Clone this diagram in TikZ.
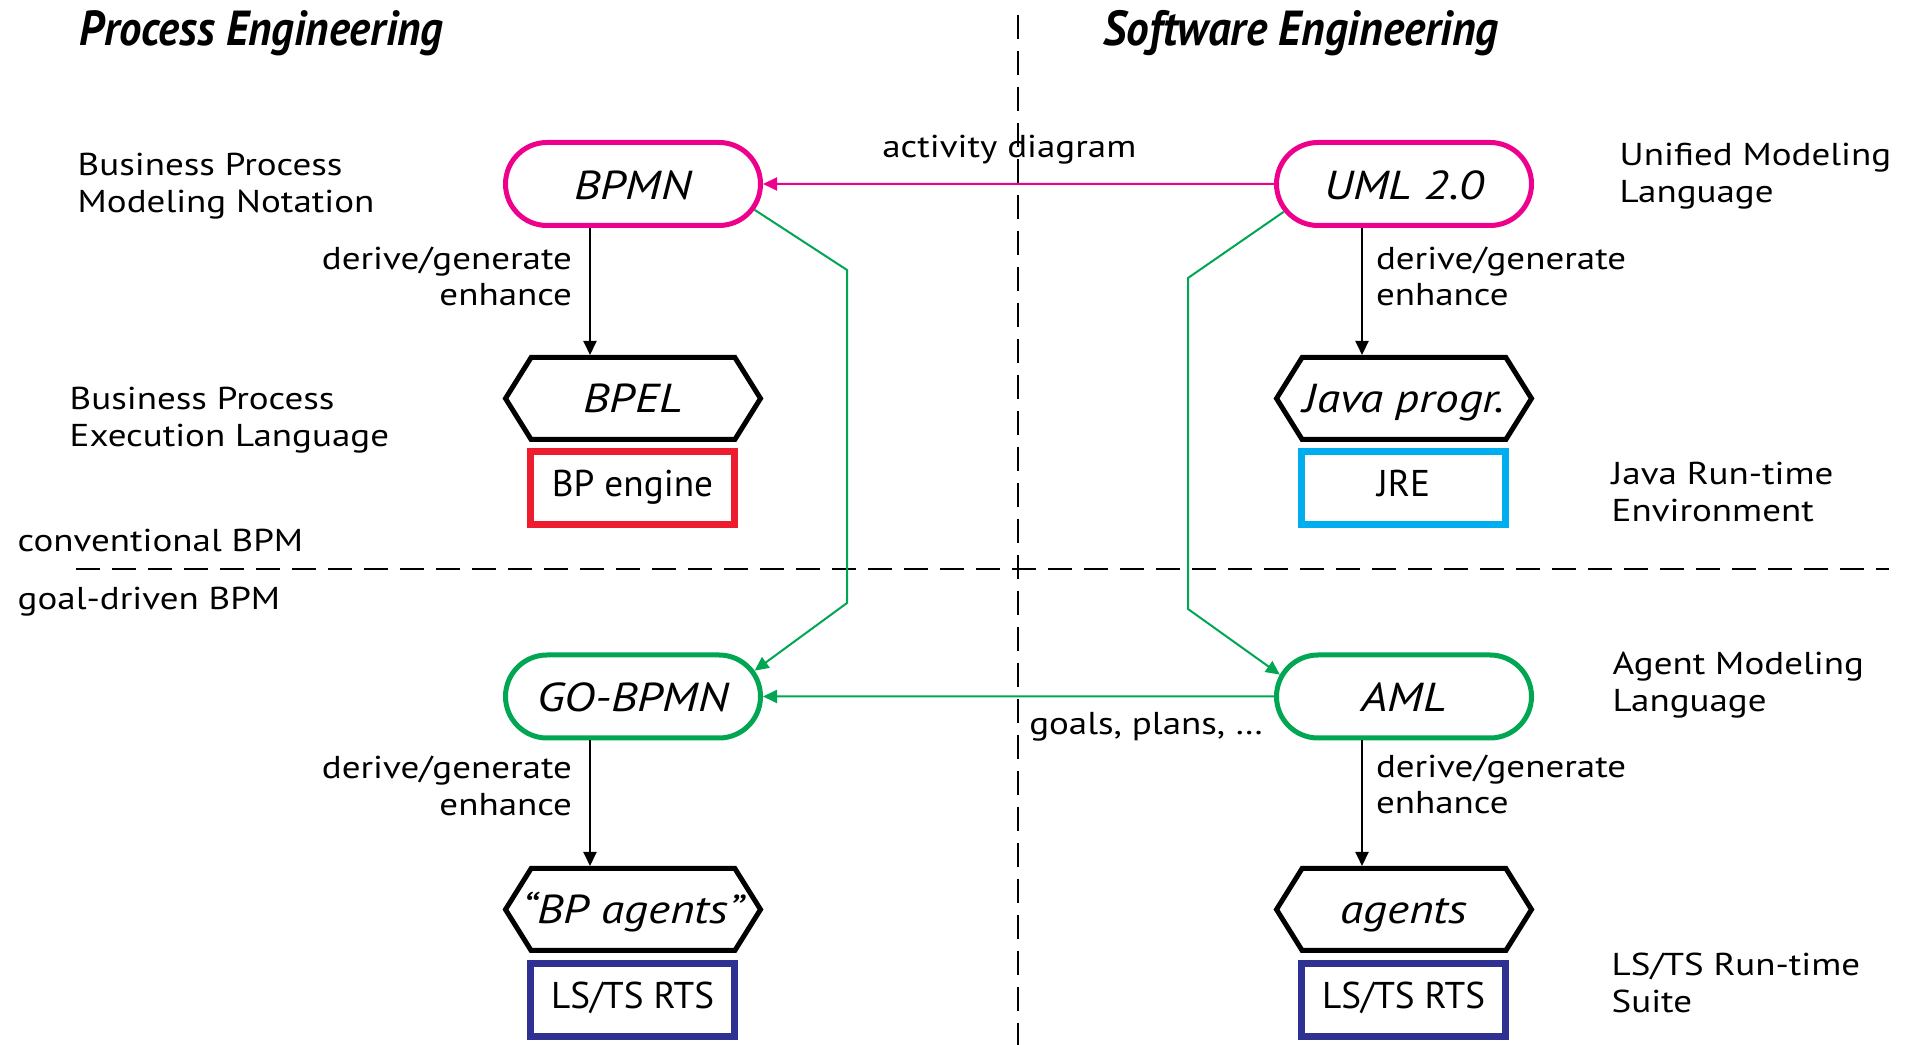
\documentclass[tikz,border=0pt]{standalone}
\usepackage{fontspec}
\setmainfont{PT Sans}[FakeStretch=1.17]
\newfontfamily\boxfont{PT Sans}
\usepackage{xcolor}
\usepackage{tikz}
\usetikzlibrary{arrows.meta,shapes.misc,shapes.symbols,calc,positioning}

\definecolor{bpmnpink}{RGB}{236,0,140}
\definecolor{goalgreen}{RGB}{0,166,81}
\definecolor{enginered}{RGB}{237,28,46}
\definecolor{jrecyan}{RGB}{0,174,239}
\definecolor{rtsblue}{RGB}{46,49,146}

\tikzstyle{langbox} = [draw, rounded rectangle, line width=0.05cm, minimum width=2.55cm, minimum height=0.83cm, inner sep=0pt, text height=10.5pt, text depth=1.8pt, font=\fontsize{11.5}{13}\selectfont\itshape]
\tikzstyle{progbox} = [draw, signal, signal to=west and east, signal pointer angle=116, line width=0.05cm, minimum width=2.55cm, minimum height=0.82cm, inner sep=0pt, text height=10pt, text depth=1.8pt, font=\fontsize{11.5}{13}\selectfont\itshape]
\tikzstyle{rtbox} = [draw, rectangle, line width=0.07cm, minimum width=2.04cm, minimum height=0.73cm, inner sep=0pt, text height=8pt, text depth=2.9pt, font=\boxfont\fontsize{10.6}{13}\selectfont]
\tikzstyle{sidetext} = [align=left, inner sep=0pt, font=\fontsize{9}{10.4}\selectfont]
\tikzstyle{heading} = [anchor=west, inner sep=0pt, font=\fontsize{14}{16}\selectfont\bfseries\itshape]
\tikzstyle{line} = [draw, line width=0.02cm, -{Triangle[length=0.14cm,width=0.13cm]}]
\tikzstyle{divider} = [dash pattern=on 0.24cm off 0.12cm, line width=0.025cm]

\begin{document}
\begin{tikzpicture}
		\useasboundingbox (0,0) rectangle (19.11,10.45);
		
		\node[heading] (pe) at (0.79,10.12) {\scalebox{0.775}[1]{Process Engineering}}; % left heading
		\node[heading] (se) at (11.03,10.12) {\scalebox{0.785}[1]{Software Engineering}}; % right heading
		
		\draw[divider] (10.18,10.30) -- (10.18,0); % vertical split
		\draw[divider] (0.76,4.76) -- (18.89,4.76); % horizontal split
		
		% process engineering column
		\node[langbox, draw=bpmnpink] (bpmn) at (6.33,8.61) {BPMN};
		\node[progbox] (bpel) at (6.33,6.465) {BPEL};
		\node[rtbox, draw=enginered] (engine) at (6.325,5.57) {BP engine};
		\node[langbox, draw=goalgreen] (gobpmn) at (6.33,3.485) {GO-BPMN};
		\node[progbox, inner xsep=-0.1cm] (bpagents) at (6.33,1.355) {“BP agents”};
		\node[rtbox, draw=rtsblue] (rtsA) at (6.325,0.45) {LS/TS RTS};
		
		% software engineering column
		\node[langbox, draw=bpmnpink] (uml) at (14.04,8.61) {UML 2.0};
		\node[progbox] (java) at (14.04,6.465) {Java progr.};
		\node[rtbox, draw=jrecyan] (jre) at (14.035,5.57) {JRE};
		\node[langbox, draw=goalgreen] (aml) at (14.04,3.485) {AML};
		\node[progbox] (agents) at (14.04,1.355) {agents};
		\node[rtbox, draw=rtsblue] (rtsB) at (14.035,0.45) {LS/TS RTS};
		
		% side texts
		\node[sidetext, anchor=west] (bpmnname) at (0.77,8.59) {Business Process\\Modeling Notation};
		\node[sidetext, anchor=west] (bpelname) at (0.69,6.25) {Business Process\\Execution Language};
		\node[sidetext, anchor=west] (conv) at (0.17,5.05) {conventional BPM};
		\node[sidetext, anchor=west] (goal) at (0.17,4.43) {goal-driven BPM};
		\node[sidetext, anchor=west] (umlname) at (16.19,8.69) {Unified Modeling\\Language};
		\node[sidetext, anchor=west] (jrename) at (16.11,5.53) {Java Run-time\\Environment};
		\node[sidetext, anchor=west] (amlname) at (16.12,3.60) {Agent Modeling\\Language};
		\node[sidetext, anchor=west] (rtsname) at (16.11,0.62) {LS/TS Run-time\\Suite};
		
		% derive arrows
		\draw[line] ([xshift=-0.43cm]bpmn.south) -- ([xshift=-0.43cm]bpel.north) node[pos=0.38, sidetext, align=right, anchor=east, xshift=-0.17cm]{derive/generate\\enhance};
		\draw[line] ([xshift=-0.42cm]uml.south) -- ([xshift=-0.42cm]java.north) node[pos=0.38, sidetext, anchor=west, xshift=0.13cm]{derive/generate\\enhance};
		\draw[line] ([xshift=-0.43cm]gobpmn.south) -- ([xshift=-0.43cm]bpagents.north) node[pos=0.36, sidetext, align=right, anchor=east, xshift=-0.17cm]{derive/generate\\enhance};
		\draw[line] ([xshift=-0.42cm]aml.south) -- ([xshift=-0.42cm]agents.north) node[pos=0.35, sidetext, anchor=west, xshift=0.13cm]{derive/generate\\enhance};
		
		% mappings between columns
		\draw[line, draw=bpmnpink] (uml) -- (bpmn) node[pos=0.518, sidetext, anchor=base, yshift=0.26cm]{activity diagram};
		\draw[line, draw=goalgreen] (aml) -- (gobpmn) node[pos=0.25, sidetext, anchor=base, yshift=-0.385cm]{goals, plans, \dots};
		
		\coordinate (bendA) at (8.47,7.75);
		\coordinate (bendB) at (8.47,4.42);
		\coordinate (bendC) at (11.88,7.67);
		\coordinate (bendD) at (11.88,4.36);
		\draw[line, draw=goalgreen] (bpmn.-12) -- (bendA) -- (bendB) -- (gobpmn.12);
		\draw[line, draw=goalgreen] (uml.193) -- (bendC) -- (bendD) -- (aml.170);
		
		\end{tikzpicture}
\end{document}
